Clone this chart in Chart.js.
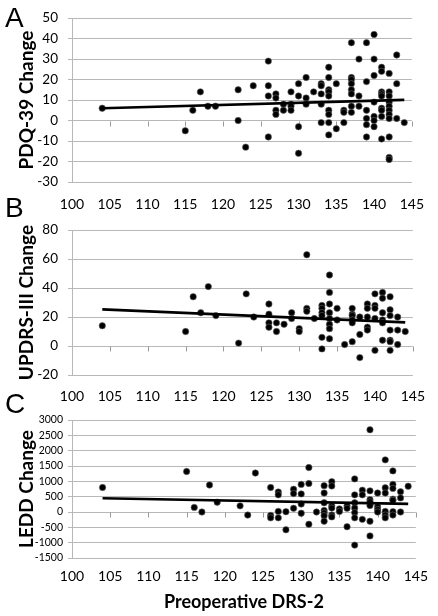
<!DOCTYPE html>
<html><head><meta charset="utf-8">
<script src="https://cdn.jsdelivr.net/npm/chart.js@4.4.0/dist/chart.umd.min.js"></script>
<style>
html,body{margin:0;padding:0;background:#fff;width:438px;height:616px;overflow:hidden;position:relative}
canvas{position:absolute;left:0}
.lt{position:absolute;left:5px;font:28px/28px "Liberation Sans",Arial,sans-serif;color:#000}
</style></head><body>
<canvas id="cA" width="438" height="212" style="top:0px"></canvas>
<canvas id="cB" width="438" height="196" style="top:212px"></canvas>
<canvas id="cC" width="438" height="208" style="top:408px"></canvas>
<div class="lt" style="top:4px">A</div>
<div class="lt" style="top:194px">B</div>
<div class="lt" style="top:390px">C</div>
<script>
// ---- Data ----
const xTickLabels = [100,105,110,115,120,125,130,135,140,145];

// Panel A: Preoperative DRS-2 vs PDQ-39 Change
const pdqDRS = [104,115,116,117,118,119,122,122,123,124,
 126,126,126,126, 127,127,127,127, 128,128, 129,129,129,129,
 130,130,130,130, 131,131,131, 132, 133,133,133,133,133,
 134,134,134,134,134,134,134,134,134, 135,135, 136,136,136,
 137,137,137,137,137,137,137,137, 138,138,138,
 139,139,139,139,139,139, 140,140,140,140,140,140,140,
 141,141,141,141,141,141,141,141,141,
 142,142,142,142,142,142,142,142,142,142,142, 143,143,143, 144];
const pdqChange = [6,-5,5,14,7,7,15,0,-13,17,
 29,17,12,-8, 13,11,5,3, 8,5, 14,8,7,5,
 18,12,-3,-16, 21,11,8, 14, 18,17,13,8,-1,
 26,21,15,14,12,5,3,-1,-7, 18,-4, 5,4,-1,
 38,21,20,18,15,13,7,4, 30,12,7,
 38,19,5,1,-2,-8, 42,30,22,9,2,0,-3,
 26,24,14,13,12,6,5,2,-9,
 23,14,12,9,7,5,3,1,-8,-18,-19, 32,18,1, -1];
const pdqTrendX = [104,144];
const pdqTrendY = [6,10.1];

// Panel B: Preoperative DRS-2 vs UPDRS-III Change
const updrsDRS = [104,115,116,117,118,119,122,123,124,
 126,126,126,126, 127,127, 128, 129,129, 130,130, 131,131,131, 132,
 133,133,133,133,133,133, 134,134,134,134,134,134,134,134, 135,135, 136,
 137,137,137,137,137,137, 138,138,138, 139,139,139,139,139,
 140,140,140,140,140, 141,141,141,141,141,141,
 142,142,142,142,142,142,142, 143,143,143, 144];
const updrsChange = [14,10,34,23,41,21,2,36,20,
 29,22,16,13, 16,10, 15, 23,19, 12,10, 63,26,24, 19,
 28,26,23,21,6,-2, 49,37,29,23,19,15,12,5, 26,18, 1,
 26,22,21,18,16,3, 20,8,-8, 29,26,20,13,11,
 36,28,26,19,-3, 37,33,23,18,16,4,
 34,25,21,11,4,3,-3, 20,11,1, 10];
const updrsTrendX = [104,144];
const updrsTrendY = [25.3,16.3];

// Panel C: Preoperative DRS-2 vs LEDD Change
const leddDRS = [104,115,116,117,118,119,122,123,124,
 126,126,126, 127,127,127,127, 128,128, 129,129,129, 130,130,130,130,
 131,131,131, 132, 133,133,133,133,133,133,133, 134,134,134,134,134,134,
 135,135, 136,136,136, 137,137,137,137,137,137,137, 138,138,138,
 139,139,139,139,139,139,139, 140,140,140,140, 141,141,141,141,141,141,
 142,142,142,142,142,142,142, 143,143,143, 144];
const leddChange = [800,1320,150,0,880,320,200,-100,1270,
 800,-110,-190, 650,560,20,-190, 10,-580, 740,600,120, 900,590,260,-40,
 1450,930,-400, 0, 860,620,300,50,-30,-120,-300, 990,850,200,130,-100,-160,
 100,20, 200,120,-480, 1080,560,300,130,-20,-190,-1080, 710,560,-240,
 2680,690,400,330,210,-300,-780, 620,170,80,0, 1700,790,620,20,-100,-190,
 1340,900,770,420,380,10,-100, 660,460,0, 840];
const leddTrendX = [104,144];
const leddTrendY = [450,265];

// ---- Drawing ----
const GRID = '#b8b8b8';
const zeroTicks = {
  id: 'zeroTicks',
  beforeDatasetsDraw(chart) {
    const xs = chart.scales.x, ys = chart.scales.y, ctx = chart.ctx;
    const y0 = Math.round(ys.getPixelForValue(0)) + 0.5;
    ctx.save();
    ctx.strokeStyle = '#9a9a9a';
    ctx.lineWidth = 1;
    ctx.beginPath();
    xs.ticks.forEach(t => {
      if (t.value === xs.min) return;
      const px = Math.round(xs.getPixelForValue(t.value)) + 0.5;
      ctx.moveTo(px, y0);
      ctx.lineTo(px, y0 + 5);
    });
    ctx.stroke();
    ctx.restore();
  }
};

function pts(xs, ys) { return xs.map((x, i) => ({x: x, y: ys[i]})); }

const PADL = 15;
function makeChart(id, cfg) {
  return new Chart(document.getElementById(id), {
    type: 'scatter',
    data: {
      datasets: [
        {type: 'line', data: pts(cfg.tx, cfg.ty), borderColor: '#000', borderWidth: 2.6,
         pointRadius: 0, fill: false, order: 0},
        {data: pts(cfg.xs, cfg.ys), backgroundColor: '#000', borderColor: '#666',
         borderWidth: 0.6, pointRadius: 3.2, order: 1}
      ]
    },
    options: {
      responsive: false, animation: false, devicePixelRatio: 1,
      plugins: {legend: {display: false}, tooltip: {enabled: false}},
      layout: {padding: {top: cfg.padTop, right: 16, left: PADL, bottom: 0}},
      scales: {
        x: {
          type: 'linear', min: xTickLabels[0], max: xTickLabels[xTickLabels.length - 1],
          afterBuildTicks(s) { s.ticks = xTickLabels.map(v => ({value: v})); },
          ticks: {padding: cfg.xPad, color: '#000', font: {family: 'Lato', size: 14},
                  callback: v => String(v)},
          grid: {display: false, drawTicks: false},
          border: {display: false},
          title: cfg.xTitle ? {display: true, text: cfg.xTitle, color: '#000',
            font: {family: 'Lato', weight: 'bold', size: 18}, padding: {top: 4, bottom: 3}} : {display: false},
          afterFit(s) { s.height = cfg.xH; }
        },
        y: {
          min: cfg.ymin, max: cfg.ymax,
          ticks: {stepSize: cfg.ystep, padding: cfg.yPad, color: '#000', autoSkip: false,
                  font: {family: 'Lato', size: cfg.yFont}, callback: v => String(v)},
          grid: {color: GRID, tickLength: 4},
          border: {display: true, color: GRID},
          title: {display: true, text: cfg.yTitle, color: '#000', padding: 0,
                  font: {family: 'Lato', weight: 'bold', size: 19}},
          afterFit(s) { s.width = 72 - PADL; }
        }
      }
    },
    plugins: [zeroTicks]
  });
}

makeChart('cA', {xs: pdqDRS, ys: pdqChange, tx: pdqTrendX, ty: pdqTrendY,
  ymin: -30, ymax: 50, ystep: 10, yTitle: 'PDQ-39 Change', yFont: 13.5, yPad: 10,
  padTop: 16, xH: 30, xPad: 14});
makeChart('cB', {xs: updrsDRS, ys: updrsChange, tx: updrsTrendX, ty: updrsTrendY,
  ymin: -20, ymax: 80, ystep: 20, yTitle: 'UPDRS-III Change', yFont: 13.5, yPad: 10,
  padTop: 16, xH: 33, xPad: 13});
makeChart('cC', {xs: leddDRS, ys: leddChange, tx: leddTrendX, ty: leddTrendY,
  ymin: -1500, ymax: 3000, ystep: 500, yTitle: 'LEDD Change', yFont: 10.5, yPad: 5,
  padTop: 12, xH: 58, xPad: 10, xTitle: 'Preoperative DRS-2'});
</script>
</body></html>
